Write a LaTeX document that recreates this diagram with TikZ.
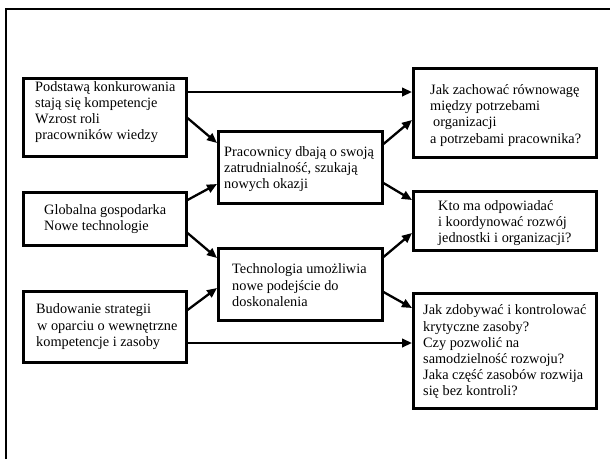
\documentclass[tikz,border=0pt]{standalone}
\usepackage{fontspec}
\setmainfont{Liberation Serif}
\usepackage{tikz}
\usetikzlibrary{arrows.meta, positioning}
\tikzset{
  >=latex,
  box/.style={draw, line width=2.5pt, anchor=north west, inner sep=0pt},
  box left/.style={box, minimum width=163},
  box mid/.style={box, minimum width=164, minimum height=72},
  box right/.style={box, minimum width=183},
  tekst/.style={align=left, inner sep=0pt, font=\fontsize{14.3}{16.2}\selectfont},
  strzalka/.style={-{Triangle[length=10,width=8.5]}, line width=2.3pt}
}

\begin{document}
\begin{tikzpicture}[x=1pt, y=-1pt]

\useasboundingbox (0,0) rectangle (610,459);

% Ramka
\draw[line width=2.5pt] (6,459) -- (6,9) -- (610,9);

% Kolumna lewa
\node[box left, minimum height=78] (L1) at (22,77) {};
\node[box left, minimum height=53] (L2) at (22,191) {};
\node[box left, minimum height=71] (L3) at (22,290) {};

% Kolumna srodkowa
\node[box mid] (S1) at (217,130) {};
\node[box mid] (S2) at (217,247) {};

% Kolumna prawa
\node[box right, minimum height=89] (P1) at (412,67) {};
\node[box right, minimum height=59] (P2) at (412,190) {};
\node[box right, minimum height=115] (P3) at (412,292) {};

% Teksty
\node[tekst, right=13pt of L1.west, yshift=5pt] (L1-t)
  {Podstawą konkurowania\\stają się kompetencje\\Wzrost roli\\pracowników wiedzy};
\node[tekst, right=22pt of L2.west] (L2-t)
  {Globalna gospodarka\\Nowe technologie};
\node[tekst, right=14pt of L3.west] (L3-t)
  {Budowanie strategii\\\hspace*{1pt}w oparciu o wewnętrzne\\kompetencje i zasoby};
\node[tekst, right=7pt of S1.west, yshift=-2pt] (S1-t)
  {Pracownicy dbają o swoją\\zatrudnialność, szukają\\nowych okazji};
\node[tekst, right=15pt of S2.west, yshift=-1pt] (S2-t)
  {Technologia umożliwia\\nowe podejście do\\doskonalenia};
\node[tekst, right=18pt of P1.west, yshift=-2.5pt] (P1-t)
  {Jak zachować równowagę\\między potrzebami\\\hspace*{3pt}organizacji\\a potrzebami pracownika?};
\node[tekst, right=26pt of P2.west, yshift=-2.5pt] (P2-t)
  {Kto ma odpowiadać\\i koordynować rozwój\\jednostki i organizacji?};
\node[tekst, right=11pt of P3.west, yshift=-1pt] (P3-t)
  {Jak zdobywać i kontrolować\\krytyczne zasoby?\\Czy pozwolić na\\samodzielność rozwoju?\\Jaka część zasobów rozwija\\się bez kontroli?};

% Strzalki lewa -> prawa
\draw[strzalka] ([yshift=-15pt]L1.north east) -- ([yshift=-25pt]P1.north west);
\draw[strzalka] ([yshift=-53pt]L3.north east) -- ([yshift=-51pt]P3.north west);

% Strzalki lewa -> srodkowa
\draw[strzalka] ([yshift=-41pt]L1.north east) -- ([yshift=-13pt]S1.north west);
\draw[strzalka] ([yshift=-9pt]L2.north east) -- ([yshift=-54pt]S1.north west);
\draw[strzalka] ([yshift=-42pt]L2.north east) -- ([yshift=-11pt]S2.north west);
\draw[strzalka] ([yshift=-20pt]L3.north east) -- ([yshift=-41pt]S2.north west);

% Strzalki srodkowa -> prawa
\draw[strzalka] ([yshift=-14pt]S1.north east) -- ([yshift=-53pt]P1.north west);
\draw[strzalka] ([yshift=-53pt]S1.north east) -- ([yshift=-10pt]P2.north west);
\draw[strzalka] ([yshift=-10pt]S2.north east) -- ([yshift=-43pt]P2.north west);
\draw[strzalka] ([yshift=-45pt]S2.north east) -- ([yshift=-16pt]P3.north west);

\end{tikzpicture}
\end{document}
